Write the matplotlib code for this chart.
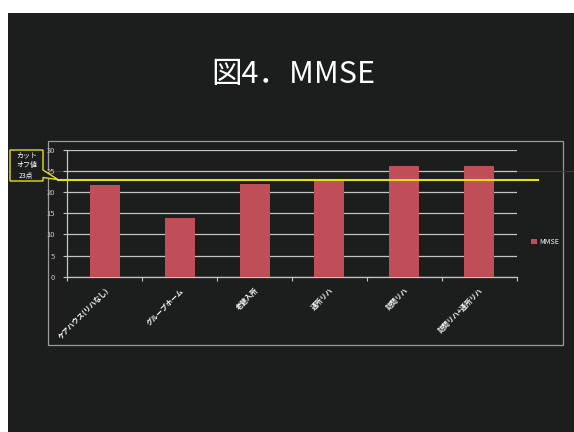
import matplotlib
matplotlib.use("Agg")
import matplotlib.pyplot as plt
from matplotlib.patches import Rectangle, Polygon
import numpy as np

plt.rcParams["font.family"] = ["Noto Sans CJK JP", "DejaVu Sans"]

# ------------------------------------------------------------------
# datos
# ------------------------------------------------------------------
categorias = ["ケアハウス(リハなし)", "グループホーム", "老健入所",
              "通所リハ", "訪問リハ", "訪問リハ+通所リハ"]
mmse = [21.6, 13.9, 21.9, 22.6, 26.3, 26.2]
cutoff = 23
yticks = [0, 5, 10, 15, 20, 25, 30]

W, H = 574, 432
BG = "#1b1e1d"
BAR = "#bf4e58"
GRID = "#c4c4c4"
YEL = "#e6df1a"


def fx(px):
    return px / W


def fy(py):
    return 1 - py / H


fig = plt.figure(figsize=(W / 100, H / 100), dpi=100, facecolor="white")

# fondo oscuro de la diapositiva (franja blanca arriba e izquierda)
fig.patches.append(Rectangle((fx(8), 0), 1 - fx(8), fy(12.5), transform=fig.transFigure,
                             facecolor=BG, edgecolor="none", zorder=-2))
# marco del area del grafico
fig.patches.append(Rectangle((fx(48), fy(345)), fx(563 - 48), (345 - 141) / H,
                             transform=fig.transFigure, facecolor="none",
                             edgecolor="#9a9a9a", lw=0.9, zorder=-1))

fig.text(0.511, 0.828, "図4．MMSE", color="white", fontsize=22,
         ha="center", va="center")

ax = fig.add_axes([fx(67.3), fy(276.7), fx(516.7 - 67.3), (276.7 - 150) / H])
ax.set_facecolor("none")
ax.set_zorder(2)

x = np.arange(len(categorias))
ax.bar(x, mmse, width=0.4, color=BAR, zorder=3, label="MMSE")

ax.set_xlim(-0.5, len(categorias) - 0.5)
ax.set_ylim(0, 30)
ax.set_yticks(yticks)
ax.tick_params(axis="y", colors=GRID, labelsize=5.5, length=3, width=0.8, pad=6)
ax.set_xticks(x)
ax.set_xticklabels(categorias, rotation=45, ha="right", rotation_mode="anchor",
                   fontsize=5, color="white", fontweight="bold")
ax.tick_params(axis="x", length=0, pad=7)
ax.set_xticks(np.arange(len(categorias) + 1) - 0.5, minor=True)
ax.tick_params(axis="x", which="minor", length=3, width=0.8, colors=GRID)
ax.grid(axis="y", color=GRID, lw=0.9, zorder=1)
for s in ["top", "right"]:
    ax.spines[s].set_visible(False)
for s in ["left", "bottom"]:
    ax.spines[s].set_color(GRID)
    ax.spines[s].set_linewidth(0.9)

# linea roja tenue que cruza la diapositiva
ax.axhline(25, xmin=(8 - 67.3) / 449.4, xmax=(574 - 67.3) / 449.4,
           color="#6a2530", lw=0.8, clip_on=False, zorder=0)

# linea de corte
ax.axhline(cutoff, xmin=(58 - 67.3) / 449.4, xmax=(537.7 - 67.3) / 449.4,
           color=YEL, lw=1.5, clip_on=False, zorder=4)

# globo "カット オフ値 23点"
pts = [(10, 150), (43, 150), (43, 170), (58, 179.6), (43, 177.5), (43, 181), (10, 181)]
fig.patches.append(Polygon([(fx(a), fy(b)) for a, b in pts], closed=True,
                           transform=fig.transFigure, facecolor=BG,
                           edgecolor=YEL, lw=1.0, zorder=5))
fig.text(fx(26.5), fy(165.5), "カット\nオフ値\n23点", color="white", fontsize=5,
         ha="center", va="center", linespacing=1.3, zorder=6)

fig.legend(loc="center left", bbox_to_anchor=(fx(525), fy(242)), frameon=False,
           fontsize=5, labelcolor="white", handlelength=0.8, handleheight=0.8,
           handletextpad=0.3)

fig.savefig("out.png", dpi=100, facecolor="white")
